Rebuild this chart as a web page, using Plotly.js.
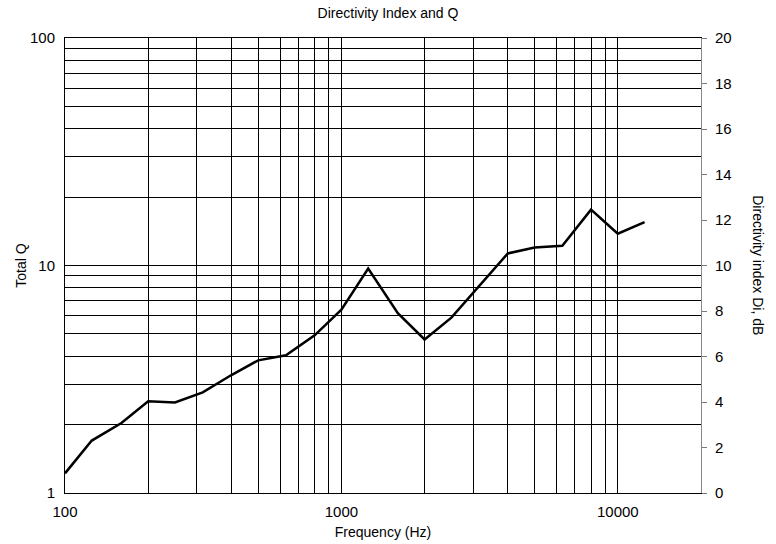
<!DOCTYPE html>
<html>
<head>
<meta charset="utf-8">
<script src="https://cdn.plot.ly/plotly-3.0.1.min.js"></script>
<style>html,body{margin:0;padding:0;background:#fff;}#chart{width:776px;height:544px;}</style>
</head>
<body>
<div id="chart"></div>
<script>
// Data (1/3-octave frequencies, Total Q)
const frequency = [100, 125, 160, 200, 250, 315, 400, 500, 630, 800, 1000, 1250, 1600, 2000, 2500, 3150, 4000, 5000, 6300, 8000, 10000, 12500];
const totalQ    = [1.22, 1.70, 2.03, 2.53, 2.50, 2.77, 3.30, 3.83, 4.03, 4.93, 6.40, 9.70, 6.17, 4.73, 5.90, 8.10, 11.3, 12.0, 12.2, 17.6, 13.8, 15.5];

// Axis tick / grid values
const xGrid = [100,200,300,400,500,600,700,800,900,1000,2000,3000,4000,5000,6000,7000,8000,9000,10000,20000];
const xLabels = ["100","","","","","","","","","1000","","","","","","","","","10000",""];
const yGrid = [1,2,3,4,5,6,7,8,9,10,20,30,40,50,60,70,80,90,100];
const yLabels = ["1","","","","","","","","","10","","","","","","","","","100"];
const diTicks = [0,2,4,6,8,10,12,14,16,18,20];

const font = {family: "Liberation Sans, Arial, sans-serif", color: "#000"};

const traces = [
  {x: frequency, y: totalQ, type: "scatter", mode: "lines",
   line: {color: "#000", width: 2.5}, hoverinfo: "skip", showlegend: false},
  {x: [frequency[0]], y: [0], type: "scatter", mode: "markers", yaxis: "y2",
   marker: {opacity: 0}, hoverinfo: "skip", showlegend: false}
];

const layout = {
  width: 776, height: 544,
  margin: {l: 65, r: 75, t: 38, b: 51},
  paper_bgcolor: "#fff", plot_bgcolor: "#fff",
  font: Object.assign({size: 14}, font),
  title: {text: "Directivity Index and Q", font: Object.assign({size: 14}, font), x: 0.5, xanchor: "center", y: 0.985, yanchor: "top"},
  xaxis: {
    type: "log", range: [2, Math.log10(20000)],
    tickvals: xGrid, ticktext: xLabels, ticks: "",
    showgrid: true, gridcolor: "#000", gridwidth: 1,
    showline: true, linecolor: "#000", linewidth: 1, mirror: true,
    zeroline: false, tickfont: Object.assign({size: 15}, font),
    ticklabelstandoff: 5,
    title: {text: "Frequency (Hz)", font: Object.assign({size: 14}, font), standoff: 8}
  },
  yaxis: {
    type: "log", range: [0, 2],
    tickvals: yGrid, ticktext: yLabels, ticks: "",
    showgrid: true, gridcolor: "#000", gridwidth: 1,
    showline: true, linecolor: "#000", linewidth: 1,
    zeroline: false, tickfont: Object.assign({size: 15}, font),
    ticklabelstandoff: 6,
    title: {text: "Total Q", font: Object.assign({size: 14}, font), standoff: 0}
  },
  yaxis2: {
    overlaying: "y", side: "right", range: [0, 20],
    tickvals: diTicks, ticks: "outside", ticklen: 5, tickcolor: "#777",
    showgrid: false, zeroline: false,
    showline: true, linecolor: "#888", linewidth: 1,
    ticklabelstandoff: 5,
    tickfont: Object.assign({size: 15}, font)
  },
  annotations: [
    {text: "Directivity index Di, dB", xref: "paper", yref: "paper", x: 1.09, y: 0.5,
     xanchor: "center", yanchor: "middle", textangle: 90, showarrow: false,
     font: Object.assign({size: 14}, font)}
  ]
};

Plotly.newPlot("chart", traces, layout, {displayModeBar: false, staticPlot: true});
</script>
</body>
</html>
